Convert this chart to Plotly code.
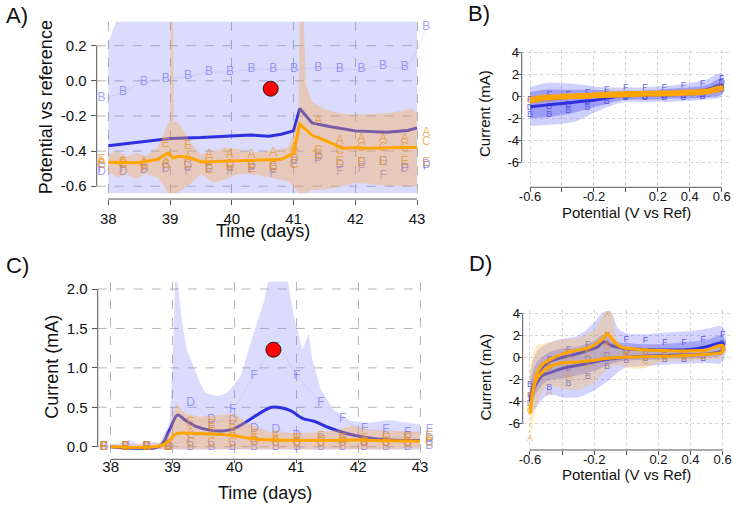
import plotly.graph_objects as go

# ================= DATA =================
# ---- Panel A: potential vs time ----
time_blue_rib_a = [38.0, 38.3, 43.0]
blue_rib_a_hi = [0.22, 0.50, 0.50]
blue_rib_a_lo = [-0.64, -0.64, -0.64]

time_or_rib_a = [38.0, 38.15, 38.3, 38.45, 38.6, 38.8, 38.9, 38.97, 39.0, 39.01, 39.05, 39.06, 39.1, 39.2,
                 39.35, 39.5, 39.7, 39.9, 40.1, 40.3, 40.6, 40.9, 41.0, 41.08, 41.1, 41.16, 41.2, 41.3,
                 41.5, 41.8, 42.0, 42.3, 42.6, 42.9, 43.0]
or_rib_a_hi = [-0.42, -0.40, -0.43, -0.41, -0.43, -0.38, -0.30, -0.24, -0.24, 0.40, 0.40, -0.24, -0.23, -0.27,
               -0.36, -0.42, -0.40, -0.38, -0.39, -0.41, -0.40, -0.38, -0.30, -0.20, 0.40, 0.40, -0.02, -0.12,
               -0.16, -0.19, -0.19, -0.19, -0.18, -0.16, -0.18]
or_rib_a_lo = [-0.52, -0.55, -0.53, -0.56, -0.53, -0.55, -0.60, -0.64, -0.64, -0.64, -0.64, -0.64, -0.64, -0.62,
               -0.58, -0.53, -0.58, -0.56, -0.53, -0.53, -0.55, -0.57, -0.60, -0.64, -0.64, -0.64, -0.64, -0.62,
               -0.62, -0.60, -0.58, -0.59, -0.60, -0.60, -0.60]

time_blue_mean_a = [38.0, 38.5, 39.0, 39.5, 40.0, 40.3, 40.6, 40.8, 41.0, 41.1, 41.3, 41.6, 42.0, 42.5, 42.85, 43.0]
blue_mean_a = [-0.37, -0.35, -0.328, -0.323, -0.315, -0.308, -0.315, -0.304, -0.285, -0.158, -0.24, -0.262,
               -0.285, -0.293, -0.283, -0.268]
time_or_mean_a = [38.0, 38.5, 38.8, 38.97, 39.05, 39.13, 39.3, 39.5, 40.0, 40.5, 40.8, 41.0, 41.1, 41.3, 41.5,
                  41.8, 42.0, 42.2, 43.0]
orange_mean_a = [-0.464, -0.466, -0.447, -0.41, -0.44, -0.43, -0.435, -0.462, -0.457, -0.45, -0.447, -0.413,
                 -0.247, -0.31, -0.338, -0.385, -0.38, -0.384, -0.378]

mark_times = [37.89, 38.24, 38.58, 38.93, 39.29, 39.63, 39.97, 40.32, 40.67, 41.01, 41.4, 41.75, 42.1, 42.45,
              42.8, 43.15]
pot_B_a = [-0.10, -0.065, -0.005, 0.01, 0.025, 0.05, 0.05, 0.065, 0.065, 0.065, 0.075, 0.07, 0.065, 0.087, 0.078, 0.305]
pot_D_a = [-0.52, -0.52, -0.51, -0.50, -0.49, -0.50, -0.49, -0.49, -0.50, -0.45, -0.44, -0.48, -0.47, -0.46, -0.50, -0.48]
pot_F_a = [-0.50, -0.50, -0.51, -0.50, -0.52, -0.51, -0.52, -0.51, -0.53, -0.48, -0.45, -0.52, -0.50, -0.54, -0.50, -0.49]
pot_A_a = [-0.46, -0.46, -0.46, -0.47, -0.44, -0.42, -0.42, -0.42, -0.41, -0.38, -0.23, -0.34, -0.33, -0.33, -0.33, -0.30]
pot_C_a = [-0.48, -0.48, -0.48, -0.48, -0.48, -0.47, -0.48, -0.48, -0.49, -0.48, -0.40, -0.40, -0.38, -0.38, -0.38, -0.35]
pot_E_a = [-0.45, -0.47, -0.49, -0.36, -0.37, -0.51, -0.49, -0.50, -0.49, -0.42, -0.42, -0.46, -0.47, -0.46, -0.46, -0.47]

red_time = [40.63]
red_pot = [-0.045]
red_cur = [1.23]

# ---- Panel C: current vs time ----
time_blue_rib_c = [38.0, 38.2, 38.3, 38.45, 38.6, 38.8, 38.95, 39.0, 39.05, 39.15, 39.23, 39.45, 39.53, 39.72, 39.88,
                   40.1, 40.31, 40.47, 40.6, 40.82, 40.96, 41.1, 41.2, 41.26, 41.4, 41.6, 41.88, 42.16, 42.5, 43.0]
blue_rib_c_hi = [0.02, 0.05, 0.09, 0.03, 0.07, 0.05, 0.3, 1.0, 2.3, 1.6, 1.23, 0.8, 0.68, 0.64, 0.68,
                 0.89, 1.44, 1.82, 2.3, 2.3, 1.65, 1.23, 1.44, 1.1, 0.72, 0.47, 0.33, 0.3, 0.34, 0.28]
blue_rib_c_lo = [-0.03, -0.04, -0.04, -0.04, -0.04, -0.04, -0.04, -0.04, -0.04, -0.04, -0.04, -0.04, -0.04, -0.04, -0.04,
                 -0.04, -0.04, -0.04, -0.04, -0.04, -0.04, -0.04, -0.04, -0.04, -0.04, -0.04, -0.04, -0.04, -0.04, -0.04]

time_or_rib_c = [38.0, 38.5, 38.8, 38.95, 39.0, 39.07, 39.2, 39.45, 39.7, 40.0, 40.2, 40.55, 41.0, 41.5, 41.8,
                 41.9, 42.2, 42.6, 43.0]
or_rib_c_hi = [0.02, 0.03, 0.05, 0.2, 0.4, 0.55, 0.42, 0.38, 0.40, 0.42, 0.30, 0.19, 0.17, 0.19, 0.24,
               0.27, 0.21, 0.2, 0.19]
or_rib_c_lo = [-0.02, -0.02, -0.03, -0.03, -0.03, -0.03, -0.03, -0.03, -0.03, -0.03, -0.03, -0.03, -0.03, -0.03, -0.03,
               -0.03, -0.03, -0.03, -0.02]

time_blue_mean_c = [38.0, 38.5, 38.8, 38.95, 39.08, 39.2, 39.4, 39.6, 39.8, 40.0, 40.2, 40.4, 40.6, 40.7, 40.9,
                    41.1, 41.3, 41.5, 41.8, 42.1, 42.5, 43.0]
blue_mean_c = [0.0, -0.02, 0.01, 0.21, 0.40, 0.34, 0.25, 0.21, 0.20, 0.23, 0.32, 0.42, 0.50, 0.50, 0.46,
               0.36, 0.32, 0.25, 0.17, 0.12, 0.085, 0.08]
time_or_mean_c = [38.0, 38.8, 38.95, 39.05, 39.3, 39.6, 40.0, 40.3, 40.6, 41.0, 41.5, 42.0, 42.5, 43.0]
orange_mean_c = [0.0, 0.01, 0.08, 0.16, 0.17, 0.16, 0.14, 0.10, 0.085, 0.08, 0.08, 0.085, 0.075, 0.07]

cur_B_c = [0.0, 0.0, -0.01, -0.01, -0.01, 0.0, 0.0, 0.0, 0.0, 0.0, 0.0, 0.0, 0.0, 0.0, 0.0, 0.01]
cur_D_c = [0.0, 0.0, 0.0, 0.01, 0.55, 0.34, 0.32, 0.23, 0.21, 0.14, 0.10, 0.08, 0.06, 0.12, 0.12, 0.10]
cur_F_c = [0.0, 0.0, 0.0, 0.02, 0.10, 0.25, 0.47, 0.90, 1.25, 0.90, 0.56, 0.35, 0.22, 0.21, 0.17, 0.21]
cur_A_c = [0.0, 0.0, 0.0, 0.0, 0.17, 0.17, 0.17, 0.10, 0.08, 0.07, 0.07, 0.07, 0.06, 0.06, 0.06, 0.08]
cur_C_c = [0.0, 0.0, 0.0, 0.0, 0.05, 0.05, 0.05, 0.06, 0.05, 0.05, 0.05, 0.05, 0.05, 0.05, 0.05, 0.05]
cur_E_c = [0.0, 0.0, 0.0, 0.0, 0.30, 0.28, 0.26, 0.15, 0.12, 0.10, 0.12, 0.10, 0.10, 0.10, 0.10, 0.12]

# ---- Panel B: CV (early) ----
pot_b = [-0.6, -0.5, -0.4, -0.3, -0.2, -0.1, 0.0, 0.1, 0.2, 0.3, 0.4, 0.5, 0.6]
blue_fwd_b = [-0.94, -0.8, -0.65, -0.5, -0.35, -0.12, 0.18, 0.3, 0.35, 0.38, 0.42, 0.6, 1.03]
blue_rev_b = [-0.5, -0.3, -0.15, -0.05, 0.0, 0.05, 0.05, 0.1, 0.12, 0.15, 0.2, 0.3, 0.7]
orange_fwd_b = [-0.2, 0.0, 0.08, 0.15, 0.2, 0.27, 0.33, 0.35, 0.38, 0.4, 0.45, 0.55, 0.85]
orange_rev_b = [-0.5, -0.25, -0.15, -0.1, -0.05, 0.0, 0.05, 0.1, 0.12, 0.15, 0.2, 0.3, 0.65]
blue_light_b_hi = [0.8, 1.2, 1.2, 1.1, 0.9, 0.8, 0.8, 0.8, 0.9, 1.0, 1.2, 1.5, 2.1]
blue_light_b_lo = [-2.7, -2.6, -2.5, -2.2, -1.5, -0.9, -0.5, -0.5, -0.5, -0.5, -0.4, -0.3, 0.0]
blue_dark_b_hi = [0.4, 0.6, 0.6, 0.6, 0.6, 0.5, 0.5, 0.5, 0.6, 0.7, 0.8, 1.0, 1.6]
blue_dark_b_lo = [-2.0, -1.9, -1.7, -1.4, -1.0, -0.6, -0.3, -0.3, -0.3, -0.2, -0.2, -0.1, 0.2]
orange_b_hi = [0.1, 0.2, 0.3, 0.35, 0.4, 0.45, 0.5, 0.5, 0.55, 0.6, 0.65, 0.75, 1.1]
orange_b_lo = [-0.8, -0.5, -0.35, -0.25, -0.2, -0.15, -0.1, -0.05, -0.05, 0.0, 0.0, 0.1, 0.4]

pot_marks = [-0.6, -0.48, -0.36, -0.24, -0.12, 0.0, 0.12, 0.24, 0.36, 0.48, 0.6]
cur_F_b = [-0.3, 0.12, 0.12, 0.3, 0.64, 0.82, 0.82, 0.82, 0.94, 1.18, 1.64]
cur_B_b = [-1.7, -1.7, -1.3, -1.0, -0.5, -0.12, -0.12, -0.12, -0.12, 0.0, 0.64]
cur_D_b = [-1.0, -0.94, -0.8, -0.5, 0.18, 0.0, 0.0, 0.05, 0.05, 0.1, 1.27]
cur_C_b = [-0.4, -0.3, -0.1, 0.0, 0.1, 0.15, 0.2, 0.25, 0.3, 0.4, 0.7]

# ---- Panel D: CV (late) ----
pot_d = [-0.6, -0.58, -0.56, -0.52, -0.48, -0.4, -0.3, -0.23, -0.18, -0.14, -0.12, -0.1, -0.06, -0.02,
         0.1, 0.27, 0.4, 0.5, 0.6]
blue_fwd_d = [-3.9, -2.6, -1.75, -0.85, -0.4, 0.0, 0.36, 0.67, 0.95, 1.42, 1.35, 1.12, 0.95, 0.82,
              0.73, 0.67, 0.73, 0.97, 1.33]
blue_rev_d = [-3.9, -3.0, -2.36, -1.6, -1.4, -1.0, -0.7, -0.5, -0.35, -0.24, -0.2, -0.15, -0.08, 0.0,
              0.1, 0.21, 0.25, 0.3, 0.67]
orange_fwd_d = [-5.1, -3.0, -1.6, -0.6, -0.24, 0.3, 0.67, 0.9, 1.3, 1.8, 2.18, 1.9, 1.2, 0.9,
                0.7, 0.62, 0.6, 0.67, 1.1]
orange_rev_d = [-4.8, -3.0, -2.0, -1.3, -0.85, -0.5, -0.4, -0.3, -0.2, -0.1, -0.08, -0.05, 0.0, 0.03,
                0.06, 0.12, 0.2, 0.3, 0.5]

pot_rib_d = [-0.6, -0.56, -0.5, -0.45, -0.4, -0.3, -0.2, -0.15, -0.1, -0.05, 0.0, 0.1, 0.2, 0.3, 0.4, 0.5, 0.6]
blue_light_d_hi = [-1.5, 0.5, 1.2, 1.5, 1.7, 2.0, 3.2, 4.0, 4.2, 2.6, 2.2, 2.1, 2.2, 2.3, 2.4, 2.6, 2.8]
blue_light_d_lo = [-5.2, -4.5, -3.5, -3.4, -3.6, -3.6, -3.0, -2.5, -2.0, -1.3, -0.9, -0.8, -0.7, -0.6, -0.55, -0.5, -0.4]
blue_dark_d_hi = [-2.5, -0.5, 0.3, 0.6, 0.8, 1.0, 1.5, 2.0, 1.8, 1.4, 1.3, 1.2, 1.2, 1.3, 1.4, 1.6, 2.0]
blue_dark_d_lo = [-4.8, -3.2, -2.2, -2.0, -1.9, -1.6, -1.2, -0.9, -0.6, -0.4, -0.3, -0.2, -0.2, -0.1, -0.1, 0.0, 0.3]
orange_d_hi = [-1.0, 1.0, 1.3, 1.5, 1.6, 1.8, 2.5, 3.6, 4.2, 1.5, 0.9, 0.8, 0.7, 0.7, 0.7, 0.8, 1.2]
orange_d_lo = [-7.6, -4.5, -2.6, -2.6, -2.8, -2.9, -2.2, -1.5, -0.9, -0.7, -0.9, -1.0, -0.5, -0.3, -0.3, -0.2, 0.0]

cur_F_d = [-3.5, -0.25, 0.67, 1.12, 2.0, 1.58, 1.5, 1.36, 1.36, 1.58, 2.1]
cur_B_d = [-2.5, -2.7, -2.4, -1.76, -0.85, -0.33, -0.1, -0.18, -0.18, -0.1, 0.82]
cur_D_d = [-4.2, -0.9, -1.0, -0.24, 0.2, 0.4, 0.3, 0.2, 0.2, 0.3, 1.2]
cur_A_d = [-7.4, -3.2, -1.76, -0.85, 3.85, 0.3, 0.5, 0.3, 0.3, 0.4, 0.9]
cur_C_d = [-4.8, -0.9, -0.2, 0.3, 1.0, 0.2, -0.4, 0.0, 0.0, 0.1, 0.6]
cur_E_d = [-3.5, -0.6, 0.4, 0.7, 1.2, 0.6, 0.5, 0.3, 0.2, 0.3, 0.8]

# ---- Tick labels ----
time_ticks = [38, 39, 40, 41, 42, 43]
time_ticktext = ["38", "39", "40", "41", "42", "43"]
pot_a_ticks = [0.2, 0.0, -0.2, -0.4, -0.6]
pot_a_ticktext = ["0.2", "0.0", "-0.2", "-0.4", "-0.6"]
cur_c_ticks = [0.0, 0.5, 1.0, 1.5, 2.0]
cur_c_ticktext = ["0.0", "0.5", "1.0", "1.5", "2.0"]
cv_x_ticks = [-0.6, -0.4, -0.2, 0.0, 0.2, 0.4, 0.6]
cv_x_ticktext = ["-0.6", "", "-0.2", "", "0.2", "0.4", "0.6"]
cv_y_ticks = [4, 2, 0, -2, -4, -6]
cv_y_ticktext = ["4", "2", "0", "-2", "-4", "-6"]

# ================= STYLE =================
FONT = "Liberation Sans, Arial, Helvetica, sans-serif"
BLUE = "#2f2fe0"
ORANGE = "#ffa500"
BLUE_RIB = "rgba(110,110,250,0.25)"
OR_RIB = "rgba(250,170,70,0.36)"
BLUE_TXT = "rgba(100,100,245,0.6)"
OR_TXT = "rgba(230,145,40,0.7)"
AXC = "#555555"

fig = go.Figure()


def band(x, hi, lo, color, xa, ya):
    fig.add_trace(go.Scatter(x=x, y=hi, mode="lines", line=dict(width=0), hoverinfo="skip",
                             showlegend=False, xaxis=xa, yaxis=ya))
    fig.add_trace(go.Scatter(x=x, y=lo, mode="lines", line=dict(width=0), fill="tonexty",
                             fillcolor=color, hoverinfo="skip", showlegend=False, xaxis=xa, yaxis=ya))


def poly(x, hi, lo, color, xa, ya):
    fig.add_trace(go.Scatter(x=list(x) + list(x)[::-1], y=list(hi) + list(lo)[::-1], mode="lines",
                             line=dict(width=0, shape="spline"), fill="toself", fillcolor=color,
                             hoverinfo="skip", showlegend=False, xaxis=xa, yaxis=ya))


def letters(x, y, letter, color, size, xa, ya, linecolor=None):
    fig.add_trace(go.Scatter(x=x, y=y, mode="text+lines" if linecolor else "text",
                             line=dict(width=0.7, color=linecolor or "rgba(0,0,0,0)", shape="spline"),
                             text=[letter] * len(x), textfont=dict(size=size, color=color, family=FONT),
                             textposition="middle center", cliponaxis=False, hoverinfo="skip",
                             showlegend=False, xaxis=xa, yaxis=ya))


def loop(x, fwd, rev, color, width, xa, ya):
    fig.add_trace(go.Scatter(x=list(x) + list(x)[::-1], y=list(fwd) + list(rev)[::-1], mode="lines",
                             line=dict(color=color, width=width, shape="spline", smoothing=0.8),
                             hoverinfo="skip", showlegend=False, xaxis=xa, yaxis=ya))


# ---------- Panel A ----------
band(time_blue_rib_a, blue_rib_a_hi, blue_rib_a_lo, BLUE_RIB, "x", "y")
letters(mark_times, pot_B_a, "B", BLUE_TXT, 12, "x", "y", "rgba(140,140,245,0.25)")
letters(mark_times, pot_D_a, "D", BLUE_TXT, 12, "x", "y")
letters(mark_times, pot_F_a, "F", BLUE_TXT, 12, "x", "y")
fig.add_trace(go.Scatter(x=time_blue_mean_a, y=blue_mean_a, mode="lines", line=dict(color=BLUE, width=3),
                         showlegend=False, xaxis="x", yaxis="y"))
band(time_or_rib_a, or_rib_a_hi, or_rib_a_lo, OR_RIB, "x", "y")
letters(mark_times, pot_A_a, "A", OR_TXT, 12, "x", "y")
letters(mark_times, pot_C_a, "C", OR_TXT, 12, "x", "y")
letters(mark_times, pot_E_a, "E", OR_TXT, 12, "x", "y")
fig.add_trace(go.Scatter(x=time_or_mean_a, y=orange_mean_a, mode="lines", line=dict(color=ORANGE, width=3),
                         showlegend=False, xaxis="x", yaxis="y"))
fig.add_trace(go.Scatter(x=red_time, y=red_pot, mode="markers",
                         marker=dict(size=15, color="#ff0000", line=dict(color="#222", width=1)),
                         showlegend=False, xaxis="x", yaxis="y"))

# ---------- Panel C ----------
band(time_blue_rib_c, blue_rib_c_hi, blue_rib_c_lo, BLUE_RIB, "x3", "y3")
letters(mark_times, cur_B_c, "B", BLUE_TXT, 12, "x3", "y3")
letters(mark_times, cur_D_c, "D", BLUE_TXT, 12, "x3", "y3", "rgba(140,140,245,0.2)")
letters(mark_times, cur_F_c, "F", BLUE_TXT, 12, "x3", "y3", "rgba(140,140,245,0.25)")
fig.add_trace(go.Scatter(x=time_blue_mean_c, y=blue_mean_c, mode="lines",
                         line=dict(color=BLUE, width=3, shape="spline"),
                         showlegend=False, xaxis="x3", yaxis="y3"))
band(time_or_rib_c, or_rib_c_hi, or_rib_c_lo, OR_RIB, "x3", "y3")
letters(mark_times, cur_A_c, "A", OR_TXT, 12, "x3", "y3")
letters(mark_times, cur_C_c, "C", OR_TXT, 12, "x3", "y3")
letters(mark_times, cur_E_c, "E", OR_TXT, 12, "x3", "y3")
fig.add_trace(go.Scatter(x=time_or_mean_c, y=orange_mean_c, mode="lines",
                         line=dict(color=ORANGE, width=3, shape="spline"),
                         showlegend=False, xaxis="x3", yaxis="y3"))
fig.add_trace(go.Scatter(x=red_time, y=red_cur, mode="markers",
                         marker=dict(size=15, color="#ff0000", line=dict(color="#222", width=1)),
                         showlegend=False, xaxis="x3", yaxis="y3"))

# ---------- Panel B ----------
poly(pot_b, blue_light_b_hi, blue_light_b_lo, "rgba(110,110,250,0.32)", "x2", "y2")
poly(pot_b, blue_dark_b_hi, blue_dark_b_lo, "rgba(80,80,240,0.4)", "x2", "y2")
letters(pot_marks, cur_F_b, "F", "rgba(60,60,230,0.8)", 9, "x2", "y2")
letters(pot_marks, cur_B_b, "B", "rgba(60,60,230,0.8)", 9, "x2", "y2")
letters(pot_marks, cur_D_b, "D", "rgba(60,60,230,0.8)", 9, "x2", "y2")
loop(pot_b, blue_fwd_b, blue_rev_b, BLUE, 3, "x2", "y2")
poly(pot_b, orange_b_hi, orange_b_lo, "rgba(255,190,60,0.3)", "x2", "y2")
letters(pot_marks, cur_C_b, "C", OR_TXT, 9, "x2", "y2")
loop(pot_b, orange_fwd_b, orange_rev_b, ORANGE, 3, "x2", "y2")

# ---------- Panel D ----------
poly(pot_rib_d, blue_light_d_hi, blue_light_d_lo, "rgba(110,110,250,0.3)", "x4", "y4")
poly(pot_rib_d, blue_dark_d_hi, blue_dark_d_lo, "rgba(80,80,240,0.36)", "x4", "y4")
letters(pot_marks, cur_F_d, "F", "rgba(60,60,230,0.8)", 9, "x4", "y4")
letters(pot_marks, cur_B_d, "B", "rgba(60,60,230,0.8)", 9, "x4", "y4")
letters(pot_marks, cur_D_d, "D", "rgba(90,70,200,0.75)", 9, "x4", "y4")
loop(pot_d, blue_fwd_d, blue_rev_d, BLUE, 3, "x4", "y4")
poly(pot_rib_d, orange_d_hi, orange_d_lo, "rgba(255,190,60,0.3)", "x4", "y4")
letters(pot_marks, cur_A_d, "A", OR_TXT, 9, "x4", "y4")
letters(pot_marks, cur_C_d, "C", OR_TXT, 9, "x4", "y4")
letters(pot_marks, cur_E_d, "E", OR_TXT, 9, "x4", "y4")
loop(pot_d, orange_fwd_d, orange_rev_d, ORANGE, 3, "x4", "y4")

# ================= LAYOUT =================
W, H = 734, 505


def px_x(p):
    return p / W


def px_y(p):
    return 1 - p / H


def ax(domain, rng, tv, tt, fs, dash, gc, anchor, tlen, standoff, grid=True):
    return dict(domain=domain, range=rng, tickvals=tv, ticktext=tt, ticks="outside", ticklen=tlen,
                tickcolor=AXC, tickfont=dict(size=fs, color="#111", family=FONT), showline=False,
                zeroline=False, showgrid=grid, gridcolor=gc, griddash=dash, gridwidth=1, anchor=anchor,
                ticklabelstandoff=standoff, automargin=False)


GRID_T = "#b4b4b4"
GRID_CV = "#d4d4d4"
range_xa = [37.812, 43.25]
range_xc = [37.79, 43.25]
layout_axes = dict(
    xaxis=ax([px_x(96.7), px_x(432.5)], range_xa, time_ticks, time_ticktext, 15, "dash", GRID_T, "y", 5, 1),
    yaxis=ax([px_y(199), px_y(21.7)], [-0.6729, 0.3367], pot_a_ticks, pot_a_ticktext, 15, "dash", GRID_T, "x",
             5, 1, grid=False),
    xaxis2=ax([px_x(521.7), px_x(731)], [-0.652, 0.658], cv_x_ticks, cv_x_ticktext, 13, "dot", GRID_CV, "y2", 4, -7),
    yaxis2=ax([px_y(187.3), px_y(50)], [-8.27, 4.21], cv_y_ticks, cv_y_ticktext, 13, "dot", GRID_CV, "x2", 4, -5),
    xaxis3=ax([px_x(97.7), px_x(435.5)], range_xc, time_ticks, time_ticktext, 15, "dash", GRID_T, "y3", 3, -9),
    yaxis3=ax([px_y(459.3), px_y(281.7)], [-0.16, 2.093], cur_c_ticks, cur_c_ticktext, 15, "dash", GRID_T, "x3",
              5, 1, grid=False),
    xaxis4=ax([px_x(522.7), px_x(731)], [-0.645, 0.652], cv_x_ticks, cv_x_ticktext, 13, "dot", GRID_CV, "y4", 4, -7),
    yaxis4=ax([px_y(450), px_y(310)], [-8.38, 4.30], cv_y_ticks, cv_y_ticktext, 13, "dot", GRID_CV, "x4", 4, -5),
)

shapes = []
# horizontal dashed grid lines of the time panels end at the last time tick
for xa, ya, rng, yt in [("x", "y", range_xa, pot_a_ticks), ("x3", "y3", range_xc, cur_c_ticks)]:
    for v in yt:
        shapes.append(dict(type="line", xref=xa, yref=ya, x0=rng[0], x1=max(time_ticks), y0=v, y1=v,
                           line=dict(color=GRID_T, width=1, dash="dash"), layer="below"))
# axis lines spanning first to last tick (base-graphics style)
for xa, ya, xt, yt in [("x", "y", time_ticks, pot_a_ticks), ("x2", "y2", cv_x_ticks, cv_y_ticks),
                       ("x3", "y3", time_ticks, cur_c_ticks), ("x4", "y4", cv_x_ticks, cv_y_ticks)]:
    shapes.append(dict(type="line", xref=xa, yref=ya + " domain", x0=min(xt), x1=max(xt), y0=0, y1=0,
                       line=dict(color=AXC, width=1)))
    shapes.append(dict(type="line", xref=xa + " domain", yref=ya, x0=0, x1=0, y0=min(yt), y1=max(yt),
                       line=dict(color=AXC, width=1)))


def ann(text, x, y, size, angle=0):
    return dict(text=text, x=px_x(x), y=px_y(y), xref="paper", yref="paper", showarrow=False,
                xanchor="center", yanchor="middle", textangle=angle,
                font=dict(size=size, color="#111", family=FONT))


annotations = [
    ann("A)", 17, 15, 22), ann("B)", 479, 13, 22), ann("C)", 17, 265, 22), ann("D)", 480, 263, 22),
    ann("Potential vs reference", 46.7, 107.5, 18, -90), ann("Time (days)", 262.5, 231, 18),
    ann("Current (mA)", 485, 114, 15, -90), ann("Potential (V vs Ref)", 626, 213, 15),
    ann("Current (mA)", 52, 366.7, 18, -90), ann("Time (days)", 265, 493.3, 18),
    ann("Current (mA)", 485, 377.5, 15, -90), ann("Potential (V vs Ref)", 626, 474, 15),
]

fig.update_layout(width=W, height=H, margin=dict(l=0, r=0, t=0, b=0, autoexpand=False),
                  paper_bgcolor="white", plot_bgcolor="white", showlegend=False, shapes=shapes,
                  annotations=annotations, font=dict(family=FONT), **layout_axes)

fig.write_html("out.html")
